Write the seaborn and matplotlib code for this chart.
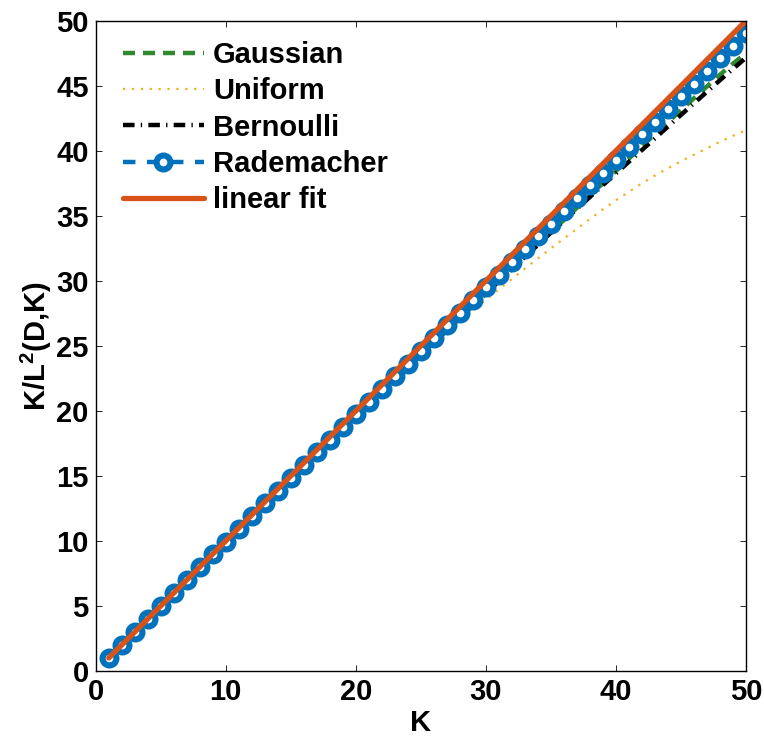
import seaborn as sns; sns.set_style("white")
import matplotlib
matplotlib.use('Agg')
import matplotlib.pyplot as plt
import pandas as pd

K = list(range(1, 51))

gaussian = [1.00, 2.00, 2.99, 3.98, 4.97, 5.96, 6.95, 7.94, 8.92, 9.90,
            10.88, 11.86, 12.83, 13.80, 14.77, 15.73, 16.69, 17.65, 18.60, 19.55,
            20.50, 21.45, 22.40, 23.35, 24.30, 25.25, 26.20, 27.14, 28.07, 29.00,
            29.95, 30.90, 31.85, 32.80, 33.74, 34.68, 35.62, 36.56, 37.50, 38.45,
            39.40, 40.34, 41.28, 42.20, 43.12, 44.04, 44.95, 45.85, 46.70, 47.50]
uniform = [1.00, 2.00, 3.00, 4.00, 5.00, 5.99, 6.99, 7.99, 8.99, 9.99,
           10.99, 11.99, 12.98, 13.98, 14.98, 15.97, 16.96, 17.95, 18.92, 19.88,
           20.82, 21.74, 22.65, 23.54, 24.42, 25.28, 26.12, 26.94, 27.75, 28.55,
           29.35, 30.15, 30.94, 31.72, 32.50, 33.25, 34.00, 34.75, 35.50, 36.20,
           36.85, 37.50, 38.10, 38.65, 39.20, 39.70, 40.20, 40.70, 41.15, 41.60]
bernoulli = [1.00, 2.00, 2.99, 3.98, 4.97, 5.96, 6.95, 7.94, 8.93, 9.91,
             10.89, 11.87, 12.85, 13.82, 14.79, 15.76, 16.72, 17.68, 18.64, 19.60,
             20.55, 21.50, 22.45, 23.40, 24.34, 25.28, 26.22, 27.16, 28.10, 29.04,
             29.98, 30.91, 31.84, 32.77, 33.70, 34.62, 35.54, 36.45, 37.36, 38.26,
             39.16, 40.06, 40.96, 41.86, 42.76, 43.65, 44.54, 45.43, 46.30, 47.15]
rademacher = [1.00, 2.00, 3.00, 4.00, 5.00, 6.00, 7.00, 7.98, 8.97, 9.95,
              10.94, 11.92, 12.90, 13.88, 14.86, 15.84, 16.82, 17.80, 18.78, 19.75,
              20.72, 21.70, 22.67, 23.64, 24.62, 25.60, 26.58, 27.55, 28.52, 29.50,
              30.48, 31.46, 32.44, 33.42, 34.40, 35.38, 36.36, 37.34, 38.32, 39.30,
              40.28, 41.26, 42.24, 43.22, 44.20, 45.17, 46.14, 47.11, 48.08, 49.05]
linear_fit = [1, 2, 3, 4, 5, 6, 7, 8, 9, 10,
              11, 12, 13, 14, 15, 16, 17, 18, 19, 20,
              21, 22, 23, 24, 25, 26, 27, 28, 29, 30,
              31, 32, 33, 34, 35, 36, 37, 38, 39, 40,
              41, 42, 43, 44, 45, 46, 47, 48, 49, 50]

x_ticks = [0, 10, 20, 30, 40, 50]
y_ticks = [0, 5, 10, 15, 20, 25, 30, 35, 40, 45, 50]

plt.rcParams['font.family'] = ['Liberation Sans', 'DejaVu Sans']
plt.rcParams['font.weight'] = 'bold'
plt.rcParams['mathtext.fontset'] = 'custom'
plt.rcParams['mathtext.bf'] = 'Liberation Sans:bold'
plt.rcParams['mathtext.rm'] = 'Liberation Sans:bold'
plt.rcParams['mathtext.default'] = 'bf'
for key in ['text.color', 'axes.labelcolor', 'xtick.color', 'ytick.color']:
    plt.rcParams[key] = 'black'

df = pd.DataFrame({'K': K, 'Gaussian': gaussian, 'Uniform': uniform,
                   'Bernoulli': bernoulli, 'Rademacher': rademacher,
                   'linear fit': linear_fit})

fig = plt.figure(figsize=(7.64, 7.38), dpi=100)
ax = fig.add_axes([0.1253, 0.0908, 0.851, 0.881])

sns.lineplot(data=df, x='K', y='Gaussian', ax=ax, color='#2F8A2F', lw=3.2,
             linestyle=(0, (2.7, 1.8)), label='Gaussian')
sns.lineplot(data=df, x='K', y='Uniform', ax=ax, color='#EDB120', lw=1.6,
             linestyle=(0, (1, 3.0)), label='Uniform')
sns.lineplot(data=df, x='K', y='Bernoulli', ax=ax, color='black', lw=3.2,
             linestyle=(0, (2.6, 1.4, 0.3, 1.4)), label='Bernoulli')
sns.lineplot(data=df, x='K', y='Rademacher', ax=ax, color='#0072BD', lw=3.2,
             linestyle=(0, (2.8, 2.6)), marker='o', markersize=10,
             markerfacecolor='white', markeredgecolor='#0072BD',
             markeredgewidth=4.4, label='Rademacher')
sns.lineplot(data=df, x='K', y='linear fit', ax=ax, color='#D95319', lw=3.8,
             label='linear fit')

ax.set_xlim(0, 50)
ax.set_ylim(0, 50)
ax.set_xticks(x_ticks)
ax.set_yticks(y_ticks)
ax.tick_params(direction='in', length=4.5, width=0.6, labelsize=21,
               top=True, right=True, bottom=True, left=True, pad=5)
for lab in ax.get_xticklabels() + ax.get_yticklabels():
    lab.set_fontweight('bold')
for sp in ax.spines.values():
    sp.set_color('black')
    sp.set_linewidth(1.0)

ax.set_xlabel('K', fontsize=21, fontweight='bold', labelpad=2)
ax.set_ylabel(r'K/L$^{2}$(D,K)', fontsize=21, fontweight='bold', labelpad=2)

leg = ax.legend(loc='upper left', frameon=False, fontsize=21,
                handlelength=2.8, handletextpad=0.3, labelspacing=0.28,
                borderaxespad=0.3, bbox_to_anchor=(0.01, 1.0))
for t in leg.get_texts():
    t.set_fontweight('bold')

plt.savefig('out.png', dpi=100)
